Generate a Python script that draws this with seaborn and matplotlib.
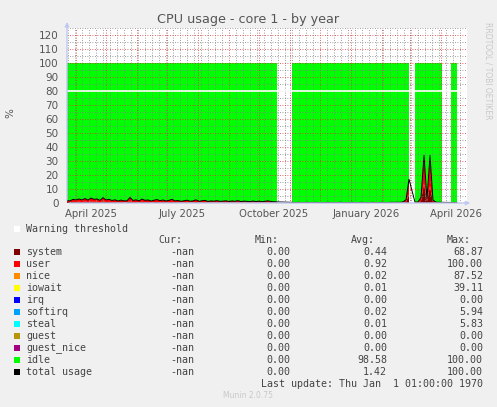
import matplotlib.pyplot as plt
import matplotlib.dates as mdates
import numpy as np
import pandas as pd
import seaborn as sns
from matplotlib.patches import Rectangle

nan = np.nan

# samples every 3 days, starting 2025-03-23
sample_start = "2025-03-23"
n_samples = 134

system = [
    0.6, 0.5, 0.8, 0.7, 0.9, 0.6, 1.0, 0.7, 1.1, 0.8,
    0.9, 0.6, 1.2, 0.7, 0.8, 0.6, 0.7, 0.5, 0.7, 0.5,
    0.5, 1.2, 0.6, 0.7, 0.5, 0.9, 0.6, 0.7, 0.5, 0.6,
    0.8, 0.5, 0.7, 0.5, 0.6, 0.8, 0.5, 0.6, 0.4, 0.5,
    0.6, 0.4, 0.5, 0.7, 0.4, 0.5, 0.6, 0.4, 0.5, 0.4,
    0.5, 0.4, 0.4, 0.5, 0.3, 0.5, 0.4, 0.5, 0.3, 0.4,
    0.4, 0.3, 0.4, 0.3, 0.4, 0.3, 0.4, 0.5, 0.3, 0.3,
    0.3, nan, nan, nan, nan, 0.2, 0.1, 0.2, 0.1, 0.1,
    0.2, 0.1, 0.1, 0.2, 0.1, 0.1, 0.1, 0.2, 0.1, 0.1,
    0.1, 0.2, 0.1, 0.1, 0.1, 0.2, 0.1, 0.1, 0.2, 0.1,
    0.1, 0.1, 0.2, 0.1, 0.1, 0.2, 0.1, 0.1, 0.2, 0.2,
    0.2, 0.2, 0.3, 0.8, 6.0, nan, 0.3, 0.3, 1.5, 14.0,
    1.2, 12.0, 0.8, 0.3, 0.2, 0.2, nan, nan, 0.2, 0.2,
    0.2, nan, nan, nan,
]

user = [
    1.2, 1.0, 1.8, 1.5, 2.0, 1.6, 2.2, 1.4, 2.4, 1.8,
    2.0, 1.3, 2.6, 1.5, 1.8, 1.2, 1.6, 0.9, 1.4, 1.0,
    1.1, 2.8, 1.2, 1.6, 1.0, 1.9, 1.3, 1.5, 0.9, 1.4,
    1.7, 1.1, 1.5, 0.9, 1.3, 1.8, 1.0, 1.2, 0.8, 1.1,
    1.4, 0.9, 1.0, 1.6, 0.8, 1.1, 1.3, 0.7, 1.0, 0.9,
    1.2, 0.8, 0.9, 1.1, 0.7, 1.0, 0.8, 1.2, 0.7, 0.9,
    0.8, 0.6, 1.0, 0.7, 0.9, 0.6, 0.8, 1.1, 0.7, 0.6,
    0.5, nan, nan, nan, nan, 0.3, 0.2, 0.3, 0.2, 0.2,
    0.3, 0.2, 0.2, 0.3, 0.2, 0.2, 0.2, 0.3, 0.2, 0.2,
    0.2, 0.3, 0.2, 0.2, 0.2, 0.3, 0.2, 0.2, 0.3, 0.2,
    0.2, 0.2, 0.3, 0.2, 0.2, 0.3, 0.2, 0.2, 0.3, 0.3,
    0.3, 0.3, 0.5, 1.5, 11.0, nan, 0.3, 0.4, 2.5, 20.0,
    1.8, 22.0, 1.2, 0.3, 0.3, 0.3, nan, nan, 0.2, 0.2,
    0.2, nan, nan, nan,
]

warning_threshold = 80

legend_names = ["system", "user", "nice", "iowait", "irq", "softirq", "steal",
                "guest", "guest_nice", "idle", "total usage"]
legend_colors = ["#7F0000", "#FF0000", "#FF8C00", "#FFFF00", "#0000FF", "#00A0FF",
                 "#00FFFF", "#B8960C", "#A0007F", "#00FF00", "#000000"]
cur_vals = ["-nan"] * 11
min_vals = ["0.00"] * 11
avg_vals = ["0.44", "0.92", "0.02", "0.01", "0.00", "0.02", "0.01", "0.00", "0.00", "98.58", "1.42"]
max_vals = ["68.87", "100.00", "87.52", "39.11", "0.00", "5.94", "5.83", "0.00", "0.00", "100.00", "100.00"]

month_labels = ["April 2025", "July 2025", "October 2025", "January 2026", "April 2026"]
month_label_dates = ["2025-04-16", "2025-07-16", "2025-10-16", "2026-01-16", "2026-04-16"]

df = pd.DataFrame({
    "date": pd.date_range(sample_start, periods=n_samples, freq="3D"),
    "system": system,
    "user": user,
})
df["total"] = df["system"] + df["user"]
df["idle"] = 100 - df["total"]  # cpu shares add up to 100 %

sns.set_theme(style="white")
plt.rcParams["font.family"] = ["DejaVu Sans"]

W, H = 497, 407
fig = plt.figure(figsize=(W / 100, H / 100), dpi=100, facecolor="#F0F0F0")
ax = fig.add_axes([67 / W, (H - 203) / H, 400 / W, 175 / H])
ax.set_facecolor("white")

x = df["date"]
ax.fill_between(x, 0, df["system"], color=legend_colors[0], lw=0, zorder=1)
ax.fill_between(x, df["system"], df["total"], color=legend_colors[1], lw=0, zorder=1)
ax.fill_between(x, df["total"], df["total"] + df["idle"], color=legend_colors[9], lw=0, zorder=1)
ax.axhline(warning_threshold, color="white", lw=1.2, zorder=2.6)
sns.lineplot(data=df, x="date", y="total", color="black", lw=0.7, estimator=None,
             ax=ax, zorder=3)

ax.set_xlim(pd.Timestamp("2025-03-23"), pd.Timestamp("2026-04-27"))
ax.set_ylim(0, 125)
ax.set_xlabel("")
ax.set_ylabel("")
for s in ax.spines.values():
    s.set_visible(False)

ax.xaxis.set_major_locator(mdates.MonthLocator())
ax.xaxis.set_minor_locator(mdates.WeekdayLocator(byweekday=mdates.MO))
ax.xaxis.set_major_formatter(plt.NullFormatter())
ax.set_yticks(range(0, 121, 10))
ax.set_yticks(range(5, 126, 10), minor=True)
ax.set_axisbelow(False)
ax.grid(True, which="major", color=(0.85, 0.2, 0.2, 0.35), lw=0.6, ls=(0, (1, 2)))
ax.grid(True, which="minor", color=(0.5, 0.5, 0.5, 0.28), lw=0.6, ls=(0, (1, 2)))
ax.tick_params(axis="y", which="major", labelsize=7.5, labelcolor="#555555",
               length=2, color="#C0C8F0", pad=4)
ax.tick_params(axis="y", which="minor", length=0)
ax.tick_params(axis="x", which="major", length=2, color="#E08080", direction="out")
ax.tick_params(axis="x", which="minor", length=0)

for lab, d in zip(month_labels, month_label_dates):
    ax.text(pd.Timestamp(d), -0.065, lab, transform=ax.get_xaxis_transform(),
            ha="center", va="center", fontsize=7.3, color="#555555")

# axis arrows
ax.annotate("", xy=(0, 1.05), xytext=(0, 0), xycoords="axes fraction",
            arrowprops=dict(arrowstyle="-|>", color="#C0C8F0", lw=1,
                            mutation_scale=6), annotation_clip=False)
ax.annotate("", xy=(1.015, 0), xytext=(0, 0), xycoords="axes fraction",
            arrowprops=dict(arrowstyle="-|>", color="#C0C8F0", lw=1,
                            mutation_scale=6), annotation_clip=False)


def fx(px):
    return px / W


def fy(py):
    return 1 - py / H


fig.text(fx(248), fy(19), "CPU usage - core 1 - by year", ha="center", va="center",
         fontsize=9.2, color="#555555")
fig.text(fx(10), fy(113), "%", ha="center", va="center", rotation=90,
         fontsize=7.5, color="#555555")
fig.text(fx(488), fy(22), "RRDTOOL / TOBI OETIKER", ha="center", va="top",
         rotation=270, fontsize=5.5, color="#C8C8C8")

mono = dict(family="DejaVu Sans Mono", fontsize=7.2, color="#444444", va="center")

fig.add_artist(Rectangle((fx(14), fy(232)), 6 / W, 6 / H, transform=fig.transFigure,
                         facecolor="white", edgecolor="none"))
fig.text(fx(26), fy(229), "Warning threshold", **mono)
fig.text(fx(158), fy(240), "Cur:", **mono)
fig.text(fx(255), fy(240), "Min:", **mono)
fig.text(fx(351), fy(240), "Avg:", **mono)
fig.text(fx(447), fy(240), "Max:", **mono)

for i, name in enumerate(legend_names):
    yy = 252 + 12 * i
    fig.add_artist(Rectangle((fx(14), fy(yy + 3)), 6 / W, 6 / H, transform=fig.transFigure,
                             facecolor=legend_colors[i], edgecolor="none"))
    fig.text(fx(26), fy(yy), name, **mono)
    fig.text(fx(194), fy(yy), cur_vals[i], ha="right", **mono)
    fig.text(fx(290), fy(yy), min_vals[i], ha="right", **mono)
    fig.text(fx(387), fy(yy), avg_vals[i], ha="right", **mono)
    fig.text(fx(483), fy(yy), max_vals[i], ha="right", **mono)

fig.text(fx(483), fy(384), "Last update: Thu Jan  1 01:00:00 1970", ha="right", **mono)
fig.text(fx(248), fy(396), "Munin 2.0.75", ha="center", va="center",
         fontsize=5.5, color="#C8C8C8")

fig.savefig("out.png", dpi=100, facecolor=fig.get_facecolor())
